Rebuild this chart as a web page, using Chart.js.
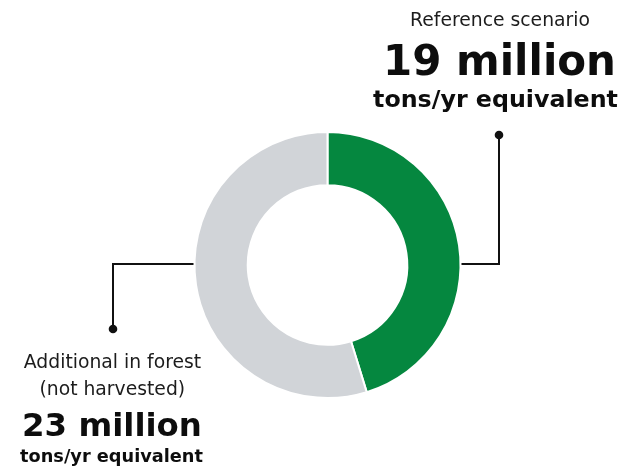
<!DOCTYPE html>
<html>
<head>
<meta charset="utf-8">
<script src="https://cdn.jsdelivr.net/npm/chart.js@4"></script>
<style>
  html, body { margin: 0; padding: 0; background: #fff; }
  #wrap { position: relative; width: 621px; height: 469px; overflow: hidden; }
  canvas { position: absolute; left: 0; top: 0; }
  .t { position: absolute; white-space: nowrap; line-height: 1; color: #111; font-family: "DejaVu Sans", sans-serif; }
  .reg { font-weight: normal; color: #1c1c1c; }
  .big { font-weight: bold; color: #0d0d0d; }
  .unit { font-weight: bold; color: #0d0d0d; }
  .bl { display: inline-block; width: 0; height: 0; vertical-align: baseline; }
</style>
</head>
<body>
<div id="wrap">
  <canvas id="c" width="621" height="469"></canvas>
</div>
<script>
// ---- data ----
const categories = ['Reference scenario', 'Additional in forest (not harvested)'];
const values = [19, 23];           // million tons/yr equivalent
const sliceColors = ['#05873f', '#d1d4d8'];

// annotation text
const rightLabel = ['Reference scenario', '19 million', 'tons/yr equivalent'];
const leftLabel = ['Additional in forest', '(not harvested)', '23 million', 'tons/yr equivalent'];

// ---- annotation text (HTML), placed by centre x and baseline y ----
const wrap = document.getElementById('wrap');
function addText(txt, cls, cx, baseline, width, size0, fixed) {
  const d = document.createElement('div');
  d.className = 't ' + cls;
  const s = document.createElement('span');
  s.textContent = txt;
  const b = document.createElement('span');
  b.className = 'bl';
  d.appendChild(s);
  d.appendChild(b);
  d.style.fontSize = size0 + 'px';
  wrap.appendChild(d);
  let size = size0;
  if (!fixed) {
    const w0 = s.getBoundingClientRect().width;
    size = size0 * width / w0;
    d.style.fontSize = size + 'px';
  }
  const w = s.getBoundingClientRect().width;
  const off = b.getBoundingClientRect().top - d.getBoundingClientRect().top;
  d.style.left = (cx - w / 2) + 'px';
  d.style.top = (baseline - off) + 'px';
  return size;
}
const regSize = addText(rightLabel[0], 'reg', 500, 26, 180, 18);
addText(rightLabel[1], 'big', 499.5, 75, 233, 42);
addText(rightLabel[2], 'unit', 495.5, 106.5, 245, 23);
addText(leftLabel[0], 'reg', 112.5, 368.3, 0, regSize, true);
addText(leftLabel[1], 'reg', 112.3, 395, 0, regSize, true);
addText(leftLabel[2], 'big', 112, 435.7, 180, 33);
addText(leftLabel[3], 'unit', 111.5, 461.7, 183, 17);

// ---- leader lines drawn from the arc geometry ----
const leaders = {
  id: 'leaders',
  afterDatasetsDraw(chart) {
    const arc = chart.getDatasetMeta(0).data[0];
    if (!arc) return;
    const cx = arc.x, cy = arc.y, R = arc.outerRadius;
    const ctx = chart.ctx;
    const y = Math.floor(cy - 0.5);
    ctx.save();
    ctx.strokeStyle = '#111';
    ctx.fillStyle = '#111';
    ctx.lineWidth = 2;
    ctx.lineCap = 'square';
    // right leader (to "Reference scenario")
    const rx = Math.round(cx + R + 38.5);
    ctx.beginPath();
    ctx.moveTo(cx + R + 2, y);
    ctx.lineTo(rx, y);
    ctx.lineTo(rx, 135);
    ctx.stroke();
    ctx.beginPath(); ctx.arc(rx, 135, 4.3, 0, Math.PI * 2); ctx.fill();
    // left leader (to "Additional in forest")
    const lx = Math.round(cx - R - 81.5);
    ctx.beginPath();
    ctx.moveTo(cx - R - 2, y);
    ctx.lineTo(lx, y);
    ctx.lineTo(lx, 329);
    ctx.stroke();
    ctx.beginPath(); ctx.arc(lx, 329, 4.3, 0, Math.PI * 2); ctx.fill();
    ctx.restore();
  }
};

new Chart(document.getElementById('c'), {
  type: 'doughnut',
  data: {
    labels: categories,
    datasets: [{
      data: values,
      backgroundColor: sliceColors,
      borderColor: '#ffffff',
      borderWidth: 2,
      hoverOffset: 0
    }]
  },
  options: {
    responsive: false,
    animation: false,
    cutout: '60%',
    rotation: 0,
    layout: { padding: { left: 193, right: 159, top: 131, bottom: 70 } },
    plugins: {
      legend: { display: false },
      tooltip: { enabled: false },
      title: { display: false }
    }
  },
  plugins: [leaders]
});
</script>
</body>
</html>
